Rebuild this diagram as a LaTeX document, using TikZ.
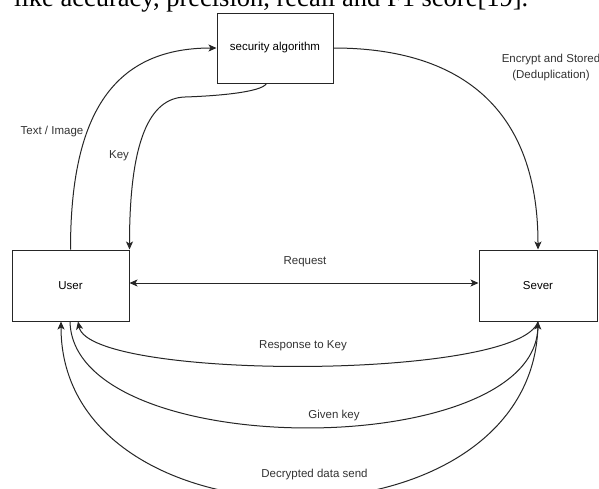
\documentclass[tikz,border=0pt]{standalone}
\usepackage{fontspec}
\setmainfont{Liberation Sans}
\newfontfamily\captionserif{Liberation Serif}
\usetikzlibrary{arrows.meta}

\tikzset{
  block/.style={draw=black!85, line width=1pt, minimum width=117pt, minimum height=71pt, inner sep=0pt},
  flow/.style={draw=black!85, line width=1pt},
  lbl/.style={text=black!80, inner sep=1pt}
}

\begin{document}
\begin{tikzpicture}[x=1pt,y=-1pt,font=\fontsize{11.5}{16}\selectfont,>={Stealth[length=8pt,width=7pt,inset=2pt]}]
	
	\path[use as bounding box,clip] (0,0) rectangle (599,488);
	\fill[white] (0,0) rectangle (599,488);
	
	% line of the page text cut at the top
	\node[anchor=base west, inner sep=0pt, font=\captionserif\fontsize{26.5}{30}\selectfont] (pagetext) at (14,6.5)
	{like accuracy, precision, recall and F1 score[19].};
	
	%------------------------------
	% Boxes
	%------------------------------
	\node[block, minimum width=116pt, minimum height=70pt] (secalg) at (275,48) {security algorithm};
	\node[block] (user) at (70.5,285.5) {User};
	\node[block, minimum width=118pt] (sever) at (538,285.5) {Sever};
	
	% end points below and above the boxes
	\coordinate (keystart) at ([xshift=-8.5pt]secalg.south);
	\coordinate (keybend) at (185,97);
	\coordinate (userdec) at ([xshift=-9.5pt]user.south);
	\coordinate (usergiven) at ([xshift=-0.5pt]user.south);
	\coordinate (userresp) at ([xshift=7.5pt]user.south);
	
	%------------------------------
	% Upper arrows
	%------------------------------
	% Text / Image
	\draw[flow,->] (user.north) .. controls +(0,-130) and +(-107,0) .. (secalg.west);
	\node[lbl] (textimg) at (52,132) {Text / Image};
	
	% Key
	\draw[flow,->] (keystart) .. controls +(-5,9) and +(30,-1) .. (keybend)
	.. controls +(-35,1) and +(0,-110) .. (user.north east);
	\node[lbl] (keylbl) at (119,156) {Key};
	
	% Encrypt and Stored
	\draw[flow,->] (secalg.east) .. controls +(117,0) and +(0,-150) .. (sever.north);
	\node[lbl, align=center] (enclbl) at (551,68) {Encrypt and Stored\\(Deduplication)};
	
	%------------------------------
	% Request
	%------------------------------
	\draw[flow,<->] ([yshift=2.5pt]user.east) -- ([yshift=2.5pt]sever.west);
	\node[lbl] (reqlbl) at (305,262) {Request};
	
	%------------------------------
	% Lower arrows
	%------------------------------
	\draw[flow,->] (sever.south) .. controls +(-18,59) and +(12,59) .. (userresp);
	\node[lbl] (resplbl) at (303,346) {Response to Key};
	
	\draw[flow,->] (usergiven) .. controls +(3,141) and +(-3,141) .. (sever.south);
	\node[lbl] (givenlbl) at (334,416) {Given key};
	
	\draw[flow,->] (sever.south) .. controls +(0,235) and +(0,235) .. (userdec);
	\node[lbl] (declbl) at (314.5,475) {Decrypted data send};
	
\end{tikzpicture}
\end{document}
